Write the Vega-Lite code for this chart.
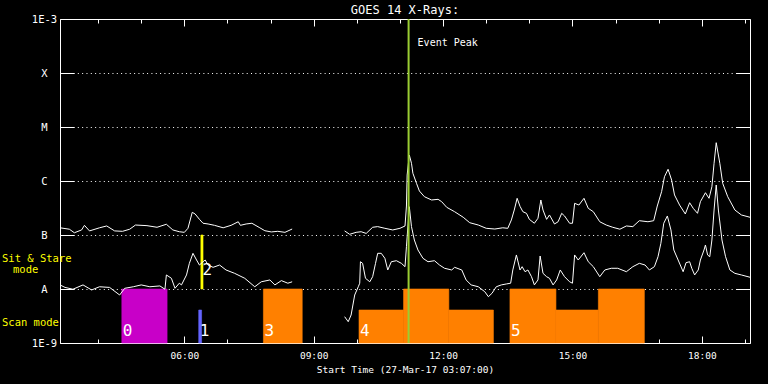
{
  "$schema": "https://vega.github.io/schema/vega-lite/v6.json",
  "width": 690,
  "height": 324,
  "autosize": {"type": "none"},
  "padding": {"left": 60, "top": 19, "right": 18, "bottom": 41},
  "background": "black",
  "title": {"text": "GOES 14 X-Rays:", "color": "white", "font": "DejaVu Sans Mono", "fontSize": 12, "fontWeight": "normal", "anchor": "middle", "offset": 5, "dy": 8},
  "config": {"view": {"stroke": "white", "strokeWidth": 1, "fill": "black"}, "font": "DejaVu Sans Mono"},
  "resolve": {"axis": {"x": "independent", "y": "independent"}},
  "datasets": {
    "bars": [
      {"g": "0", "t": "2017-03-27T04:33", "t2": "2017-03-27T05:36", "v": 1e-8, "v2": 1e-9},
      {"g": "1", "t": "2017-03-27T06:20", "t2": "2017-03-27T06:24", "v": 4.08e-9, "v2": 1e-9},
      {"g": "2", "t": "2017-03-27T06:23", "t2": "2017-03-27T06:26", "v": 1e-7, "v2": 1e-8},
      {"g": "3", "t": "2017-03-27T07:50", "t2": "2017-03-27T08:44", "v": 1e-8, "v2": 1e-9},
      {"g": "4", "t": "2017-03-27T10:03", "t2": "2017-03-27T11:05", "v": 4.08e-9, "v2": 1e-9},
      {"g": "4", "t": "2017-03-27T11:05", "t2": "2017-03-27T12:08", "v": 1e-8, "v2": 1e-9},
      {"g": "4", "t": "2017-03-27T12:08", "t2": "2017-03-27T13:10", "v": 4.08e-9, "v2": 1e-9},
      {"g": "5", "t": "2017-03-27T13:33", "t2": "2017-03-27T14:37", "v": 1e-8, "v2": 1e-9},
      {"g": "5", "t": "2017-03-27T14:37", "t2": "2017-03-27T15:36", "v": 4.08e-9, "v2": 1e-9},
      {"g": "5", "t": "2017-03-27T15:36", "t2": "2017-03-27T16:40", "v": 1e-8, "v2": 1e-9}
    ],
    "nums": [
      {"label": "0", "t": "2017-03-27T04:33", "v": 1.2e-9},
      {"label": "1", "t": "2017-03-27T06:20", "v": 1.2e-9},
      {"label": "2", "t": "2017-03-27T06:24", "v": 1.6e-8},
      {"label": "3", "t": "2017-03-27T07:50", "v": 1.2e-9},
      {"label": "4", "t": "2017-03-27T10:03", "v": 1.2e-9},
      {"label": "5", "t": "2017-03-27T13:33", "v": 1.2e-9}
    ],
    "ann": [
      {"label": "Sit & Stare", "t": "2017-03-27T03:07", "v": 3.67e-8},
      {"label": "mode", "t": "2017-03-27T03:07", "v": 2.25e-8},
      {"label": "Scan mode", "t": "2017-03-27T03:07", "v": 2.35e-9}
    ],
    "peak": [
      {"label": "Event Peak", "t": "2017-03-27T11:12", "v": 3.6e-4}
    ],
    "flux": [
      {"s": "L1", "t": "2017-03-27T03:07", "v": 1.36e-7},
      {"s": "L1", "t": "2017-03-27T03:20", "v": 1.28e-7},
      {"s": "L1", "t": "2017-03-27T03:27", "v": 1.10e-7},
      {"s": "L1", "t": "2017-03-27T03:37", "v": 1.24e-7},
      {"s": "L1", "t": "2017-03-27T03:41", "v": 1.51e-7},
      {"s": "L1", "t": "2017-03-27T03:48", "v": 1.19e-7},
      {"s": "L1", "t": "2017-03-27T04:02", "v": 1.36e-7},
      {"s": "L1", "t": "2017-03-27T04:12", "v": 1.47e-7},
      {"s": "L1", "t": "2017-03-27T04:23", "v": 1.19e-7},
      {"s": "L1", "t": "2017-03-27T04:34", "v": 1.17e-7},
      {"s": "L1", "t": "2017-03-27T04:44", "v": 1.28e-7},
      {"s": "L1", "t": "2017-03-27T04:52", "v": 1.53e-7},
      {"s": "L1", "t": "2017-03-27T05:08", "v": 1.49e-7},
      {"s": "L1", "t": "2017-03-27T05:22", "v": 1.39e-7},
      {"s": "L1", "t": "2017-03-27T05:35", "v": 1.58e-7},
      {"s": "L1", "t": "2017-03-27T05:44", "v": 1.24e-7},
      {"s": "L1", "t": "2017-03-27T05:53", "v": 1.15e-7},
      {"s": "L1", "t": "2017-03-27T06:00", "v": 1.12e-7},
      {"s": "L1", "t": "2017-03-27T06:05", "v": 1.33e-7},
      {"s": "L1", "t": "2017-03-27T06:11", "v": 2.63e-7},
      {"s": "L1", "t": "2017-03-27T06:15", "v": 2.45e-7},
      {"s": "L1", "t": "2017-03-27T06:21", "v": 1.95e-7},
      {"s": "L1", "t": "2017-03-27T06:26", "v": 1.65e-7},
      {"s": "L1", "t": "2017-03-27T06:33", "v": 1.60e-7},
      {"s": "L1", "t": "2017-03-27T06:42", "v": 1.51e-7},
      {"s": "L1", "t": "2017-03-27T06:54", "v": 1.36e-7},
      {"s": "L1", "t": "2017-03-27T07:05", "v": 1.51e-7},
      {"s": "L1", "t": "2017-03-27T07:15", "v": 1.76e-7},
      {"s": "L1", "t": "2017-03-27T07:18", "v": 1.51e-7},
      {"s": "L1", "t": "2017-03-27T07:26", "v": 1.60e-7},
      {"s": "L1", "t": "2017-03-27T07:34", "v": 1.65e-7},
      {"s": "L1", "t": "2017-03-27T07:45", "v": 1.36e-7},
      {"s": "L1", "t": "2017-03-27T07:52", "v": 1.20e-7},
      {"s": "L1", "t": "2017-03-27T08:01", "v": 1.14e-7},
      {"s": "L1", "t": "2017-03-27T08:10", "v": 1.17e-7},
      {"s": "L1", "t": "2017-03-27T08:20", "v": 1.12e-7},
      {"s": "L1", "t": "2017-03-27T08:30", "v": 1.29e-7},
      {"s": "L2", "t": "2017-03-27T09:43", "v": 1.19e-7},
      {"s": "L2", "t": "2017-03-27T09:50", "v": 1.03e-7},
      {"s": "L2", "t": "2017-03-27T09:59", "v": 1.12e-7},
      {"s": "L2", "t": "2017-03-27T10:06", "v": 1.15e-7},
      {"s": "L2", "t": "2017-03-27T10:13", "v": 1.07e-7},
      {"s": "L2", "t": "2017-03-27T10:22", "v": 1.39e-7},
      {"s": "L2", "t": "2017-03-27T10:29", "v": 1.43e-7},
      {"s": "L2", "t": "2017-03-27T10:39", "v": 1.33e-7},
      {"s": "L2", "t": "2017-03-27T10:50", "v": 1.24e-7},
      {"s": "L2", "t": "2017-03-27T11:00", "v": 1.33e-7},
      {"s": "L2", "t": "2017-03-27T11:07", "v": 1.47e-7},
      {"s": "L2", "t": "2017-03-27T11:09", "v": 3.44e-7},
      {"s": "L2", "t": "2017-03-27T11:10", "v": 1.29e-6},
      {"s": "L2", "t": "2017-03-27T11:13", "v": 3.03e-6},
      {"s": "L2", "t": "2017-03-27T11:16", "v": 2.13e-6},
      {"s": "L2", "t": "2017-03-27T11:18", "v": 1.39e-6},
      {"s": "L2", "t": "2017-03-27T11:23", "v": 9.06e-7},
      {"s": "L2", "t": "2017-03-27T11:27", "v": 6.53e-7},
      {"s": "L2", "t": "2017-03-27T11:34", "v": 5.12e-7},
      {"s": "L2", "t": "2017-03-27T11:44", "v": 4.45e-7},
      {"s": "L2", "t": "2017-03-27T11:53", "v": 4.58e-7},
      {"s": "L2", "t": "2017-03-27T11:58", "v": 4.14e-7},
      {"s": "L2", "t": "2017-03-27T12:05", "v": 3.26e-7},
      {"s": "L2", "t": "2017-03-27T12:16", "v": 2.70e-7},
      {"s": "L2", "t": "2017-03-27T12:28", "v": 2.13e-7},
      {"s": "L2", "t": "2017-03-27T12:37", "v": 1.69e-7},
      {"s": "L2", "t": "2017-03-27T12:49", "v": 1.53e-7},
      {"s": "L2", "t": "2017-03-27T13:00", "v": 1.33e-7},
      {"s": "L2", "t": "2017-03-27T13:12", "v": 1.29e-7},
      {"s": "L2", "t": "2017-03-27T13:23", "v": 1.36e-7},
      {"s": "L2", "t": "2017-03-27T13:30", "v": 1.33e-7},
      {"s": "L2", "t": "2017-03-27T13:35", "v": 1.90e-7},
      {"s": "L2", "t": "2017-03-27T13:39", "v": 2.90e-7},
      {"s": "L2", "t": "2017-03-27T13:43", "v": 4.78e-7},
      {"s": "L2", "t": "2017-03-27T13:47", "v": 3.40e-7},
      {"s": "L2", "t": "2017-03-27T13:51", "v": 2.70e-7},
      {"s": "L2", "t": "2017-03-27T13:56", "v": 2.52e-7},
      {"s": "L2", "t": "2017-03-27T14:00", "v": 1.95e-7},
      {"s": "L2", "t": "2017-03-27T14:07", "v": 1.65e-7},
      {"s": "L2", "t": "2017-03-27T14:12", "v": 2.04e-7},
      {"s": "L2", "t": "2017-03-27T14:16", "v": 4.45e-7},
      {"s": "L2", "t": "2017-03-27T14:19", "v": 2.90e-7},
      {"s": "L2", "t": "2017-03-27T14:24", "v": 1.95e-7},
      {"s": "L2", "t": "2017-03-27T14:28", "v": 2.35e-7},
      {"s": "L2", "t": "2017-03-27T14:35", "v": 1.60e-7},
      {"s": "L2", "t": "2017-03-27T14:40", "v": 1.76e-7},
      {"s": "L2", "t": "2017-03-27T14:45", "v": 2.52e-7},
      {"s": "L2", "t": "2017-03-27T14:49", "v": 2.25e-7},
      {"s": "L2", "t": "2017-03-27T14:56", "v": 1.65e-7},
      {"s": "L2", "t": "2017-03-27T15:00", "v": 1.65e-7},
      {"s": "L2", "t": "2017-03-27T15:03", "v": 3.86e-7},
      {"s": "L2", "t": "2017-03-27T15:09", "v": 3.59e-7},
      {"s": "L2", "t": "2017-03-27T15:16", "v": 4.78e-7},
      {"s": "L2", "t": "2017-03-27T15:22", "v": 3.12e-7},
      {"s": "L2", "t": "2017-03-27T15:29", "v": 2.70e-7},
      {"s": "L2", "t": "2017-03-27T15:38", "v": 1.76e-7},
      {"s": "L2", "t": "2017-03-27T15:47", "v": 1.53e-7},
      {"s": "L2", "t": "2017-03-27T15:56", "v": 1.39e-7},
      {"s": "L2", "t": "2017-03-27T16:06", "v": 1.28e-7},
      {"s": "L2", "t": "2017-03-27T16:15", "v": 1.47e-7},
      {"s": "L2", "t": "2017-03-27T16:24", "v": 1.43e-7},
      {"s": "L2", "t": "2017-03-27T16:33", "v": 1.84e-7},
      {"s": "L2", "t": "2017-03-27T16:45", "v": 1.76e-7},
      {"s": "L2", "t": "2017-03-27T16:53", "v": 1.84e-7},
      {"s": "L2", "t": "2017-03-27T16:58", "v": 3.44e-7},
      {"s": "L2", "t": "2017-03-27T17:04", "v": 6.34e-7},
      {"s": "L2", "t": "2017-03-27T17:08", "v": 1.20e-6},
      {"s": "L2", "t": "2017-03-27T17:13", "v": 1.65e-6},
      {"s": "L2", "t": "2017-03-27T17:18", "v": 1.04e-6},
      {"s": "L2", "t": "2017-03-27T17:22", "v": 5.51e-7},
      {"s": "L2", "t": "2017-03-27T17:29", "v": 3.59e-7},
      {"s": "L2", "t": "2017-03-27T17:37", "v": 2.45e-7},
      {"s": "L2", "t": "2017-03-27T17:43", "v": 3.96e-7},
      {"s": "L2", "t": "2017-03-27T17:48", "v": 3.12e-7},
      {"s": "L2", "t": "2017-03-27T17:54", "v": 2.52e-7},
      {"s": "L2", "t": "2017-03-27T17:58", "v": 4.14e-7},
      {"s": "L2", "t": "2017-03-27T18:05", "v": 6.07e-7},
      {"s": "L2", "t": "2017-03-27T18:10", "v": 4.78e-7},
      {"s": "L2", "t": "2017-03-27T18:14", "v": 7.84e-7},
      {"s": "L2", "t": "2017-03-27T18:17", "v": 2.13e-6},
      {"s": "L2", "t": "2017-03-27T18:20", "v": 5.12e-6},
      {"s": "L2", "t": "2017-03-27T18:25", "v": 2.13e-6},
      {"s": "L2", "t": "2017-03-27T18:29", "v": 9.06e-7},
      {"s": "L2", "t": "2017-03-27T18:36", "v": 5.12e-7},
      {"s": "L2", "t": "2017-03-27T18:46", "v": 2.90e-7},
      {"s": "L2", "t": "2017-03-27T18:55", "v": 2.35e-7},
      {"s": "L2", "t": "2017-03-27T19:07", "v": 2.13e-7},
      {"s": "S1", "t": "2017-03-27T03:07", "v": 1.19e-8},
      {"s": "S1", "t": "2017-03-27T03:14", "v": 1.07e-8},
      {"s": "S1", "t": "2017-03-27T03:25", "v": 9.9e-9},
      {"s": "S1", "t": "2017-03-27T03:39", "v": 1.19e-8},
      {"s": "S1", "t": "2017-03-27T03:51", "v": 9.6e-9},
      {"s": "S1", "t": "2017-03-27T04:02", "v": 1.10e-8},
      {"s": "S1", "t": "2017-03-27T04:16", "v": 1.07e-8},
      {"s": "S1", "t": "2017-03-27T04:30", "v": 7.74e-9},
      {"s": "S1", "t": "2017-03-27T04:37", "v": 1.03e-8},
      {"s": "S1", "t": "2017-03-27T04:49", "v": 1.10e-8},
      {"s": "S1", "t": "2017-03-27T05:00", "v": 1.19e-8},
      {"s": "S1", "t": "2017-03-27T05:12", "v": 1.10e-8},
      {"s": "S1", "t": "2017-03-27T05:26", "v": 1.14e-8},
      {"s": "S1", "t": "2017-03-27T05:33", "v": 9.9e-9},
      {"s": "S1", "t": "2017-03-27T05:35", "v": 1.82e-8},
      {"s": "S1", "t": "2017-03-27T05:42", "v": 1.58e-8},
      {"s": "S1", "t": "2017-03-27T05:47", "v": 1.03e-8},
      {"s": "S1", "t": "2017-03-27T05:53", "v": 1.28e-8},
      {"s": "S1", "t": "2017-03-27T05:56", "v": 1.19e-8},
      {"s": "S1", "t": "2017-03-27T06:03", "v": 1.82e-8},
      {"s": "S1", "t": "2017-03-27T06:07", "v": 2.99e-8},
      {"s": "S1", "t": "2017-03-27T06:12", "v": 4.58e-8},
      {"s": "S1", "t": "2017-03-27T06:17", "v": 3.44e-8},
      {"s": "S1", "t": "2017-03-27T06:21", "v": 2.78e-8},
      {"s": "S1", "t": "2017-03-27T06:26", "v": 3.20e-8},
      {"s": "S1", "t": "2017-03-27T06:29", "v": 3.44e-8},
      {"s": "S1", "t": "2017-03-27T06:33", "v": 2.78e-8},
      {"s": "S1", "t": "2017-03-27T06:40", "v": 2.52e-8},
      {"s": "S1", "t": "2017-03-27T06:49", "v": 2.78e-8},
      {"s": "S1", "t": "2017-03-27T06:58", "v": 2.25e-8},
      {"s": "S1", "t": "2017-03-27T07:10", "v": 1.95e-8},
      {"s": "S1", "t": "2017-03-27T07:24", "v": 1.58e-8},
      {"s": "S1", "t": "2017-03-27T07:38", "v": 1.10e-8},
      {"s": "S1", "t": "2017-03-27T07:47", "v": 1.36e-8},
      {"s": "S1", "t": "2017-03-27T07:59", "v": 1.47e-8},
      {"s": "S1", "t": "2017-03-27T08:06", "v": 1.19e-8},
      {"s": "S1", "t": "2017-03-27T08:15", "v": 1.43e-8},
      {"s": "S1", "t": "2017-03-27T08:24", "v": 1.28e-8},
      {"s": "S1", "t": "2017-03-27T08:30", "v": 1.36e-8},
      {"s": "S2", "t": "2017-03-27T09:43", "v": 3.07e-9},
      {"s": "S2", "t": "2017-03-27T09:48", "v": 2.48e-9},
      {"s": "S2", "t": "2017-03-27T09:52", "v": 3.30e-9},
      {"s": "S2", "t": "2017-03-27T09:57", "v": 7.74e-9},
      {"s": "S2", "t": "2017-03-27T10:02", "v": 1.10e-8},
      {"s": "S2", "t": "2017-03-27T10:04", "v": 1.28e-8},
      {"s": "S2", "t": "2017-03-27T10:05", "v": 3.20e-8},
      {"s": "S2", "t": "2017-03-27T10:08", "v": 2.99e-8},
      {"s": "S2", "t": "2017-03-27T10:12", "v": 1.58e-8},
      {"s": "S2", "t": "2017-03-27T10:18", "v": 1.36e-8},
      {"s": "S2", "t": "2017-03-27T10:22", "v": 1.69e-8},
      {"s": "S2", "t": "2017-03-27T10:26", "v": 2.99e-8},
      {"s": "S2", "t": "2017-03-27T10:29", "v": 4.58e-8},
      {"s": "S2", "t": "2017-03-27T10:34", "v": 4.58e-8},
      {"s": "S2", "t": "2017-03-27T10:39", "v": 3.70e-8},
      {"s": "S2", "t": "2017-03-27T10:43", "v": 2.25e-8},
      {"s": "S2", "t": "2017-03-27T10:48", "v": 3.20e-8},
      {"s": "S2", "t": "2017-03-27T10:55", "v": 3.34e-8},
      {"s": "S2", "t": "2017-03-27T11:02", "v": 2.99e-8},
      {"s": "S2", "t": "2017-03-27T11:07", "v": 2.59e-8},
      {"s": "S2", "t": "2017-03-27T11:09", "v": 6.07e-8},
      {"s": "S2", "t": "2017-03-27T11:13", "v": 3.34e-7},
      {"s": "S2", "t": "2017-03-27T11:16", "v": 1.43e-7},
      {"s": "S2", "t": "2017-03-27T11:20", "v": 8.08e-8},
      {"s": "S2", "t": "2017-03-27T11:25", "v": 5.28e-8},
      {"s": "S2", "t": "2017-03-27T11:32", "v": 3.70e-8},
      {"s": "S2", "t": "2017-03-27T11:39", "v": 3.20e-8},
      {"s": "S2", "t": "2017-03-27T11:48", "v": 3.34e-8},
      {"s": "S2", "t": "2017-03-27T11:55", "v": 2.78e-8},
      {"s": "S2", "t": "2017-03-27T12:02", "v": 2.42e-8},
      {"s": "S2", "t": "2017-03-27T12:12", "v": 2.25e-8},
      {"s": "S2", "t": "2017-03-27T12:16", "v": 2.52e-8},
      {"s": "S2", "t": "2017-03-27T12:26", "v": 2.25e-8},
      {"s": "S2", "t": "2017-03-27T12:32", "v": 1.47e-8},
      {"s": "S2", "t": "2017-03-27T12:39", "v": 1.19e-8},
      {"s": "S2", "t": "2017-03-27T12:49", "v": 1.10e-8},
      {"s": "S2", "t": "2017-03-27T12:58", "v": 8.91e-9},
      {"s": "S2", "t": "2017-03-27T13:03", "v": 7.20e-9},
      {"s": "S2", "t": "2017-03-27T13:08", "v": 8.32e-9},
      {"s": "S2", "t": "2017-03-27T13:14", "v": 1.10e-8},
      {"s": "S2", "t": "2017-03-27T13:21", "v": 1.19e-8},
      {"s": "S2", "t": "2017-03-27T13:28", "v": 1.24e-8},
      {"s": "S2", "t": "2017-03-27T13:34", "v": 1.28e-8},
      {"s": "S2", "t": "2017-03-27T13:37", "v": 2.25e-8},
      {"s": "S2", "t": "2017-03-27T13:42", "v": 4.27e-8},
      {"s": "S2", "t": "2017-03-27T13:47", "v": 2.25e-8},
      {"s": "S2", "t": "2017-03-27T13:50", "v": 2.59e-8},
      {"s": "S2", "t": "2017-03-27T13:54", "v": 2.09e-8},
      {"s": "S2", "t": "2017-03-27T13:58", "v": 2.25e-8},
      {"s": "S2", "t": "2017-03-27T14:03", "v": 1.69e-8},
      {"s": "S2", "t": "2017-03-27T14:07", "v": 1.19e-8},
      {"s": "S2", "t": "2017-03-27T14:12", "v": 1.47e-8},
      {"s": "S2", "t": "2017-03-27T14:15", "v": 4.08e-8},
      {"s": "S2", "t": "2017-03-27T14:19", "v": 1.95e-8},
      {"s": "S2", "t": "2017-03-27T14:24", "v": 1.69e-8},
      {"s": "S2", "t": "2017-03-27T14:28", "v": 1.58e-8},
      {"s": "S2", "t": "2017-03-27T14:33", "v": 1.19e-8},
      {"s": "S2", "t": "2017-03-27T14:38", "v": 1.47e-8},
      {"s": "S2", "t": "2017-03-27T14:43", "v": 2.25e-8},
      {"s": "S2", "t": "2017-03-27T14:49", "v": 1.69e-8},
      {"s": "S2", "t": "2017-03-27T14:56", "v": 1.36e-8},
      {"s": "S2", "t": "2017-03-27T15:00", "v": 1.28e-8},
      {"s": "S2", "t": "2017-03-27T15:03", "v": 4.27e-8},
      {"s": "S2", "t": "2017-03-27T15:08", "v": 3.44e-8},
      {"s": "S2", "t": "2017-03-27T15:16", "v": 4.70e-8},
      {"s": "S2", "t": "2017-03-27T15:22", "v": 3.20e-8},
      {"s": "S2", "t": "2017-03-27T15:29", "v": 2.59e-8},
      {"s": "S2", "t": "2017-03-27T15:38", "v": 1.69e-8},
      {"s": "S2", "t": "2017-03-27T15:45", "v": 2.25e-8},
      {"s": "S2", "t": "2017-03-27T15:54", "v": 2.42e-8},
      {"s": "S2", "t": "2017-03-27T16:03", "v": 2.42e-8},
      {"s": "S2", "t": "2017-03-27T16:15", "v": 2.09e-8},
      {"s": "S2", "t": "2017-03-27T16:24", "v": 2.59e-8},
      {"s": "S2", "t": "2017-03-27T16:33", "v": 2.99e-8},
      {"s": "S2", "t": "2017-03-27T16:41", "v": 2.78e-8},
      {"s": "S2", "t": "2017-03-27T16:47", "v": 2.25e-8},
      {"s": "S2", "t": "2017-03-27T16:54", "v": 2.59e-8},
      {"s": "S2", "t": "2017-03-27T16:59", "v": 3.96e-8},
      {"s": "S2", "t": "2017-03-27T17:03", "v": 7.02e-8},
      {"s": "S2", "t": "2017-03-27T17:07", "v": 1.65e-7},
      {"s": "S2", "t": "2017-03-27T17:12", "v": 2.25e-7},
      {"s": "S2", "t": "2017-03-27T17:17", "v": 1.24e-7},
      {"s": "S2", "t": "2017-03-27T17:21", "v": 5.28e-8},
      {"s": "S2", "t": "2017-03-27T17:27", "v": 3.44e-8},
      {"s": "S2", "t": "2017-03-27T17:34", "v": 2.09e-8},
      {"s": "S2", "t": "2017-03-27T17:38", "v": 3.07e-8},
      {"s": "S2", "t": "2017-03-27T17:43", "v": 3.20e-8},
      {"s": "S2", "t": "2017-03-27T17:46", "v": 2.42e-8},
      {"s": "S2", "t": "2017-03-27T17:50", "v": 1.82e-8},
      {"s": "S2", "t": "2017-03-27T17:55", "v": 2.25e-8},
      {"s": "S2", "t": "2017-03-27T17:58", "v": 3.44e-8},
      {"s": "S2", "t": "2017-03-27T18:03", "v": 5.28e-8},
      {"s": "S2", "t": "2017-03-27T18:05", "v": 6.53e-8},
      {"s": "S2", "t": "2017-03-27T18:08", "v": 4.27e-8},
      {"s": "S2", "t": "2017-03-27T18:11", "v": 3.96e-8},
      {"s": "S2", "t": "2017-03-27T18:14", "v": 8.08e-8},
      {"s": "S2", "t": "2017-03-27T18:17", "v": 2.90e-7},
      {"s": "S2", "t": "2017-03-27T18:20", "v": 8.43e-7},
      {"s": "S2", "t": "2017-03-27T18:23", "v": 2.90e-7},
      {"s": "S2", "t": "2017-03-27T18:28", "v": 8.08e-8},
      {"s": "S2", "t": "2017-03-27T18:33", "v": 3.96e-8},
      {"s": "S2", "t": "2017-03-27T18:39", "v": 2.25e-8},
      {"s": "S2", "t": "2017-03-27T18:46", "v": 1.95e-8},
      {"s": "S2", "t": "2017-03-27T18:55", "v": 1.82e-8},
      {"s": "S2", "t": "2017-03-27T19:07", "v": 1.65e-8}
    ]
  },
  "layer": [
    {
      "data": {"name": "bars"},
      "mark": {"type": "rect", "strokeWidth": 0.6},
      "encoding": {
        "x": {"field": "t", "type": "temporal",
          "scale": {"domain": [{"year": 2017, "month": 3, "date": 27, "hours": 3, "minutes": 7}, {"year": 2017, "month": 3, "date": 27, "hours": 19, "minutes": 7}], "nice": false},
          "axis": {"orient": "bottom",
            "values": [{"year": 2017, "month": 3, "date": 27, "hours": 4}, {"year": 2017, "month": 3, "date": 27, "hours": 5}, {"year": 2017, "month": 3, "date": 27, "hours": 6}, {"year": 2017, "month": 3, "date": 27, "hours": 7}, {"year": 2017, "month": 3, "date": 27, "hours": 8}, {"year": 2017, "month": 3, "date": 27, "hours": 9}, {"year": 2017, "month": 3, "date": 27, "hours": 10}, {"year": 2017, "month": 3, "date": 27, "hours": 11}, {"year": 2017, "month": 3, "date": 27, "hours": 12}, {"year": 2017, "month": 3, "date": 27, "hours": 13}, {"year": 2017, "month": 3, "date": 27, "hours": 14}, {"year": 2017, "month": 3, "date": 27, "hours": 15}, {"year": 2017, "month": 3, "date": 27, "hours": 16}, {"year": 2017, "month": 3, "date": 27, "hours": 17}, {"year": 2017, "month": 3, "date": 27, "hours": 18}, {"year": 2017, "month": 3, "date": 27, "hours": 19}],
            "labelExpr": "hours(datum.value) % 3 == 0 ? timeFormat(datum.value, '%H:%M') : ''",
            "tickSize": {"condition": {"test": "hours(datum.value) % 3 == 0", "value": -7}, "value": -4},
            "tickColor": "white", "domain": false, "grid": false,
            "labelColor": "white", "labelFont": "DejaVu Sans Mono", "labelFontSize": 9.5, "labelPadding": 14, "labelOverlap": false, "labelFlush": false,
            "title": "Start Time (27-Mar-17 03:07:00)", "titleColor": "white", "titleFont": "DejaVu Sans Mono", "titleFontSize": 9.5, "titleFontWeight": "normal", "titlePadding": 2}
        },
        "x2": {"field": "t2"},
        "y": {"field": "v", "type": "quantitative",
          "scale": {"type": "log", "domain": [1e-9, 1e-3], "nice": false},
          "axis": {"orient": "left", "values": [1e-9, 1e-8, 1e-7, 1e-6, 1e-5, 1e-4, 1e-3],
            "labelExpr": "datum.value < 2e-9 ? '1E-9' : datum.value < 2e-8 ? 'A' : datum.value < 2e-7 ? 'B' : datum.value < 2e-6 ? 'C' : datum.value < 2e-5 ? 'M' : datum.value < 2e-4 ? 'X' : '1E-3'",
            "tickSize": -14, "tickColor": "white", "domain": false,
            "labelPadding": 30, "labelAlign": "center", "labelBaseline": "middle", "labelColor": "white", "labelFont": "DejaVu Sans Mono", "labelFontSize": 10.5, "labelOverlap": false,
            "grid": true, "gridColor": "white", "gridDash": [1, 3.33], "title": null}
        },
        "y2": {"field": "v2"},
        "color": {"field": "g", "type": "nominal", "scale": {"domain": ["0", "1", "2", "3", "4", "5"], "range": ["#c800c8", "#6464ff", "#ffff00", "#ff8000", "#ff8000", "#ff8000"]}, "legend": null},
        "stroke": {"field": "g", "type": "nominal", "scale": {"domain": ["0", "1", "2", "3", "4", "5"], "range": ["#c800c8", "#6464ff", "#ffff00", "#ff8000", "#ff8000", "#ff8000"]}, "legend": null}
      }
    },
    {
      "data": {"name": "flux"},
      "mark": {"type": "line", "color": "white", "strokeWidth": 1},
      "encoding": {
        "x": {"field": "t", "type": "temporal",
          "scale": {"domain": [{"year": 2017, "month": 3, "date": 27, "hours": 3, "minutes": 7}, {"year": 2017, "month": 3, "date": 27, "hours": 19, "minutes": 7}], "nice": false},
          "axis": {"orient": "top",
            "values": [{"year": 2017, "month": 3, "date": 27, "hours": 4}, {"year": 2017, "month": 3, "date": 27, "hours": 5}, {"year": 2017, "month": 3, "date": 27, "hours": 6}, {"year": 2017, "month": 3, "date": 27, "hours": 7}, {"year": 2017, "month": 3, "date": 27, "hours": 8}, {"year": 2017, "month": 3, "date": 27, "hours": 9}, {"year": 2017, "month": 3, "date": 27, "hours": 10}, {"year": 2017, "month": 3, "date": 27, "hours": 11}, {"year": 2017, "month": 3, "date": 27, "hours": 12}, {"year": 2017, "month": 3, "date": 27, "hours": 13}, {"year": 2017, "month": 3, "date": 27, "hours": 14}, {"year": 2017, "month": 3, "date": 27, "hours": 15}, {"year": 2017, "month": 3, "date": 27, "hours": 16}, {"year": 2017, "month": 3, "date": 27, "hours": 17}, {"year": 2017, "month": 3, "date": 27, "hours": 18}, {"year": 2017, "month": 3, "date": 27, "hours": 19}],
            "labels": false,
            "tickSize": {"condition": {"test": "hours(datum.value) % 3 == 0", "value": -7}, "value": -4},
            "tickColor": "white", "domain": false, "grid": false, "title": null}
        },
        "y": {"field": "v", "type": "quantitative",
          "scale": {"type": "log", "domain": [1e-9, 1e-3], "nice": false},
          "axis": {"orient": "right", "values": [1e-9, 1e-8, 1e-7, 1e-6, 1e-5, 1e-4, 1e-3], "labels": false, "tickSize": -14, "tickColor": "white", "domain": false, "grid": false, "title": null}
        },
        "detail": {"field": "s", "type": "nominal"}
      }
    },
    {
      "data": {"name": "peak"},
      "mark": {"type": "rule", "color": "#9acd32", "strokeWidth": 2},
      "encoding": {
        "x": {"field": "t", "type": "temporal", "axis": null,
          "scale": {"domain": [{"year": 2017, "month": 3, "date": 27, "hours": 3, "minutes": 7}, {"year": 2017, "month": 3, "date": 27, "hours": 19, "minutes": 7}], "nice": false}}
      }
    },
    {
      "data": {"name": "peak"},
      "mark": {"type": "text", "color": "white", "font": "DejaVu Sans Mono", "fontSize": 10, "align": "left", "baseline": "middle", "dx": 9},
      "encoding": {
        "x": {"field": "t", "type": "temporal", "axis": null},
        "y": {"field": "v", "type": "quantitative", "axis": null, "scale": {"type": "log", "domain": [1e-9, 1e-3], "nice": false}},
        "text": {"field": "label"}
      }
    },
    {
      "data": {"name": "nums"},
      "mark": {"type": "text", "color": "white", "font": "DejaVu Sans Mono", "fontSize": 16, "align": "left", "baseline": "bottom", "dx": 1},
      "encoding": {
        "x": {"field": "t", "type": "temporal", "axis": null},
        "y": {"field": "v", "type": "quantitative", "axis": null, "scale": {"type": "log", "domain": [1e-9, 1e-3], "nice": false}},
        "text": {"field": "label"}
      }
    },
    {
      "data": {"name": "ann"},
      "transform": [{"filter": "datum.label != 'mode'"}],
      "mark": {"type": "text", "color": "#ffff00", "font": "DejaVu Sans Mono", "fontSize": 10.5, "align": "left", "baseline": "middle", "dx": -58},
      "encoding": {
        "x": {"field": "t", "type": "temporal", "axis": null},
        "y": {"field": "v", "type": "quantitative", "axis": null, "scale": {"type": "log", "domain": [1e-9, 1e-3], "nice": false}},
        "text": {"field": "label"}
      }
    },
    {
      "data": {"name": "ann"},
      "transform": [{"filter": "datum.label == 'mode'"}],
      "mark": {"type": "text", "color": "#ffff00", "font": "DejaVu Sans Mono", "fontSize": 10.5, "align": "left", "baseline": "middle", "dx": -47},
      "encoding": {
        "x": {"field": "t", "type": "temporal", "axis": null},
        "y": {"field": "v", "type": "quantitative", "axis": null, "scale": {"type": "log", "domain": [1e-9, 1e-3], "nice": false}},
        "text": {"field": "label"}
      }
    }
  ]
}
